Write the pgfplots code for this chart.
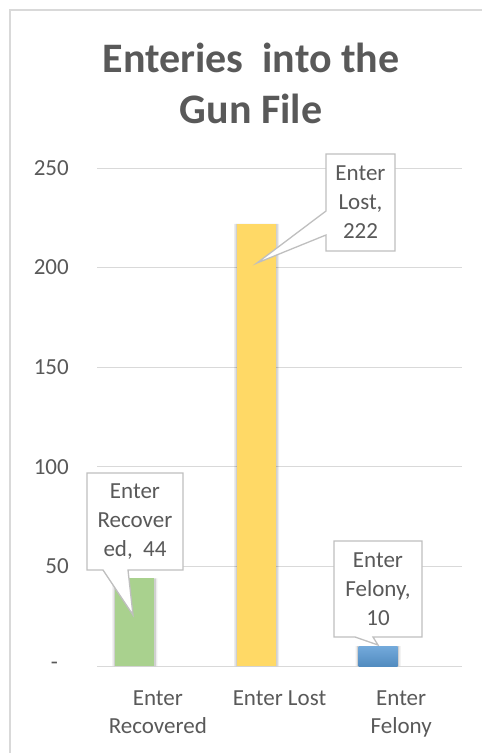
\documentclass[border=0pt]{standalone}
\usepackage{pgfplots}
\pgfplotsset{compat=1.18}
\usepackage{fontspec}
\setmainfont{Carlito}

\definecolor{txt}{HTML}{595959}
\definecolor{gridc}{HTML}{D9D9D9}
\definecolor{callc}{HTML}{BFBFBF}
\definecolor{cgreen}{HTML}{A9D18E}
\definecolor{cyellow}{HTML}{FFD966}
\definecolor{cblue}{HTML}{5B9BD5}

\begin{document}
\begin{tikzpicture}
\path[use as bounding box] (0,0) rectangle (482bp,-753bp);
% chart area frame (cut off at right and bottom)
\draw[gridc, line width=1.5bp] (10bp,-753bp) -- (10bp,-10bp) -- (482bp,-10bp);

\begin{axis}[
  at={(97bp,-666bp)}, anchor=south west,
  scale only axis, width=365bp, height=498bp,
  xmin=-0.5, xmax=2.5, ymin=0, ymax=250,
  axis line style={draw=none},
  major tick length=0pt,
  ymajorgrids, grid style={gridc, line width=1bp},
  ytick={0,50,100,150,200,250},
  yticklabels={{\makebox[18bp][l]{-}},50,100,150,200,250},
  xtick={0,1,2},
  xticklabels={{Enter\\Recovered},{Enter Lost},{Enter\\Felony}},
  tick label style={font=\fontsize{23bp}{28bp}\selectfont, text=txt, inner sep=0pt},
  yticklabel style={xshift=-28bp},
  xticklabel style={align=center, yshift=-25bp},
  clip=false,
]
% soft shadows
\addplot[ybar, bar width=45bp, bar shift=-23bp, fill=black, fill opacity=0.07, draw=none] coordinates {(0,44) (1,222) (2,10)};
\addplot[ybar, bar width=42bp, bar shift=-23bp, fill=black, fill opacity=0.12, draw=none] coordinates {(0,44) (1,222) (2,10)};
% bars
\addplot[ybar, bar width=39bp, bar shift=-23bp, fill=cgreen, draw=none] coordinates {(0,44)};
\addplot[ybar, bar width=39bp, bar shift=-23bp, fill=cyellow, draw=none] coordinates {(1,222)};
\addplot[ybar, bar width=39bp, bar shift=-23bp, draw=none, top color=cblue!85!white, bottom color=cblue!90!black] coordinates {(2,10)};
\end{axis}

\begin{scope}[x=1bp, y=-1bp]
% title
\node[anchor=base, text=txt, font=\fontsize{42bp}{51bp}\selectfont\bfseries] at (251,72) {Enteries\ \ into the};
\node[anchor=base, text=txt, font=\fontsize{42bp}{51bp}\selectfont\bfseries] at (251,123) {Gun File};

% data callouts
\draw[callc, line width=1.3bp, fill=white]
  (326,154) -- (395,154) -- (395,251) -- (326,251) -- (326,235) -- (257,263) -- (326,211) -- cycle;
\node[align=center, text=txt, font=\fontsize{23bp}{29bp}\selectfont] at (360.5,202.5) {Enter\\Lost,\\222};

\draw[callc, line width=1.3bp, fill=white]
  (87,473) -- (183,473) -- (183,570) -- (128,570) -- (133,615) -- (103,570) -- (87,570) -- cycle;
\node[align=center, text=txt, font=\fontsize{23bp}{29bp}\selectfont] at (135,521.5) {Enter\\Recover\\ed,\ \ 44};

\draw[callc, line width=1.3bp, fill=white]
  (334,541) -- (422,541) -- (422,637) -- (373,637) -- (378,645) -- (355,637) -- (334,637) -- cycle;
\node[align=center, text=txt, font=\fontsize{23bp}{29bp}\selectfont] at (378,589.5) {Enter\\Felony,\\10};
\end{scope}
\end{tikzpicture}
\end{document}
